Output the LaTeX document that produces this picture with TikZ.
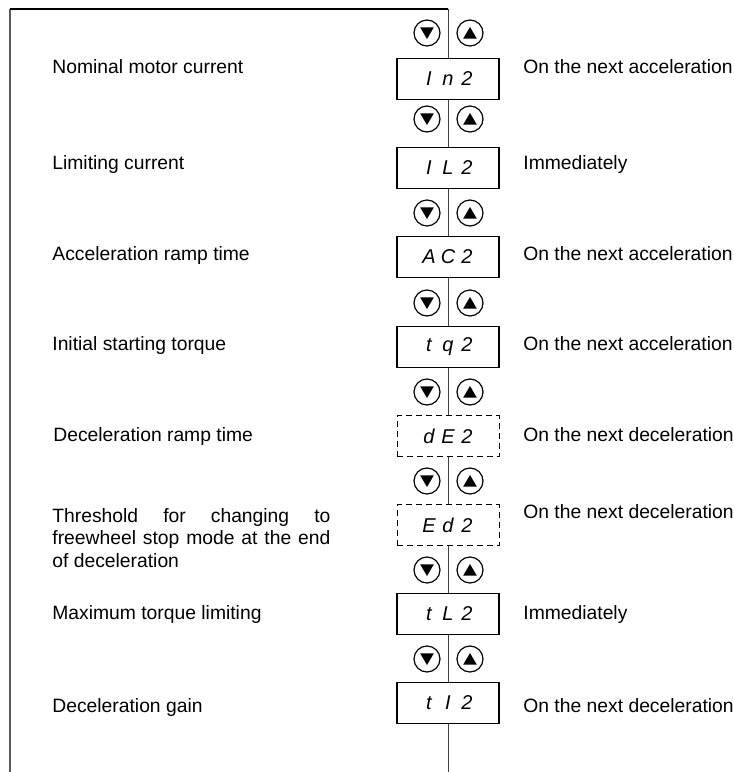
\documentclass[tikz,border=0pt]{standalone}
\usepackage{fontspec}
\setmainfont{Liberation Sans}
\usepackage{xcolor}
\usepackage{tikz}
\definecolor{atsFrame}{HTML}{5A5A5A}
\definecolor{atsSpine}{HTML}{404040}
\newcommand{\segtxt}[3]{\makebox[9.5pt]{#1}\makebox[9.5pt]{#2}\makebox[9.5pt]{#3}}
\newcommand{\fullline}[1]{\makebox[139pt][s]{#1}}
\tikzset{
  atsbox/.style={draw,line width=0.9pt,fill=white,minimum width=51pt,
                 minimum height=20.5pt,inner sep=0pt,
                 font=\fontsize{10}{12}\selectfont\itshape},
  atsdash/.style={atsbox,line width=0.4pt,dash pattern=on 3pt off 2pt},
  atskey/.style={circle,draw,line width=0.6pt,fill=white,minimum size=13pt,
                 inner sep=0pt},
  atsdown/.style={atskey,path picture={\fill[black] (path picture bounding box.center)
                  ++(-3.4pt,2.8pt) -- ++(6.8pt,0pt) -- ++(-3.4pt,-5.8pt) -- cycle;}},
  atsup/.style={atskey,path picture={\fill[black] (path picture bounding box.center)
                ++(-3.4pt,-2.8pt) -- ++(6.8pt,0pt) -- ++(-3.4pt,5.8pt) -- cycle;}},
  atslabel/.style={anchor=base west,inner sep=0pt,
                   font=\fontsize{9.65}{11.25}\selectfont},
  atsspine/.style={line width=0.5pt,atsSpine},
  atsframe/.style={line width=0.6pt}
}

\begin{document}
\begin{tikzpicture}[x=0.5pt,y=-0.5pt]
    \useasboundingbox (0,0) rectangle (734,772);
    \coordinate (corner) at (10,9);
    \coordinate (lbot) at (10,772);
    \coordinate (top) at (448,9);
    \coordinate (bot) at (448,772);

    % displays
    \node[atsbox]  (in2) at (448,79)  {\segtxt{I}{n}{2}};
    \node[atsbox]  (il2) at (448,168) {\segtxt{I}{L}{2}};
    \node[atsbox]  (ac2) at (448,257) {\segtxt{A}{C}{2}};
    \node[atsbox]  (tq2) at (448,347) {\segtxt{t}{q}{2}};
    \node[atsdash] (de2) at (448,436) {\segtxt{d}{E}{2}};
    \node[atsdash] (ed2) at (448,525) {\segtxt{E}{d}{2}};
    \node[atsbox]  (tl2) at (448,614) {\segtxt{t}{L}{2}};
    \node[atsbox]  (ti2) at (448,703) {\segtxt{t}{I}{2}};

    \draw[atsframe,atsFrame] (lbot) -- (corner);
    \draw[atsframe] (corner) -- (top);
    \draw[atsspine] (top) -- (in2) -- (il2) -- (ac2) -- (tq2) -- (de2)
      -- (ed2) -- (tl2) -- (ti2) -- (bot);

    % keys
    \node[atsdown] (dn1) at (427,33)  {}; \node[atsup] (up1) at (470,33)  {};
    \node[atsdown] (dn2) at (427,119) {}; \node[atsup] (up2) at (470,119) {};
    \node[atsdown] (dn3) at (427,213) {}; \node[atsup] (up3) at (470,213) {};
    \node[atsdown] (dn4) at (427,303) {}; \node[atsup] (up4) at (470,303) {};
    \node[atsdown] (dn5) at (427,392) {}; \node[atsup] (up5) at (470,392) {};
    \node[atsdown] (dn6) at (427,481) {}; \node[atsup] (up6) at (470,481) {};
    \node[atsdown] (dn7) at (427,570) {}; \node[atsup] (up7) at (470,570) {};
    \node[atsdown] (dn8) at (427,659) {}; \node[atsup] (up8) at (470,659) {};

    % parameter names
    \node[atslabel] (n1) at (52,73)  {Nominal motor current};
    \node[atslabel] (n2) at (52,169) {Limiting current};
    \node[atslabel] (n3) at (52,260) {Acceleration ramp time};
    \node[atslabel] (n4) at (52,350) {Initial starting torque};
    \node[atslabel] (n5) at (53,441) {Deceleration ramp time};
    \node[atslabel,align=left] (n6) at (52,567)
      {\fullline{Threshold for changing to}\\
       \fullline{freewheel stop mode at the end}\\
       of deceleration};
    \node[atslabel] (n7) at (52,619) {Maximum torque limiting};
    \node[atslabel] (n8) at (52,712) {Deceleration gain};

    % when the change is taken into account
    \node[atslabel] (w1) at (523,73)  {On the next acceleration};
    \node[atslabel] (w2) at (523,169) {Immediately};
    \node[atslabel] (w3) at (523,260) {On the next acceleration};
    \node[atslabel] (w4) at (523,350) {On the next acceleration};
    \node[atslabel] (w5) at (523,441) {On the next deceleration};
    \node[atslabel] (w6) at (523,518) {On the next deceleration};
    \node[atslabel] (w7) at (523,619) {Immediately};
    \node[atslabel] (w8) at (523,712) {On the next deceleration};
  \end{tikzpicture}
\end{document}
